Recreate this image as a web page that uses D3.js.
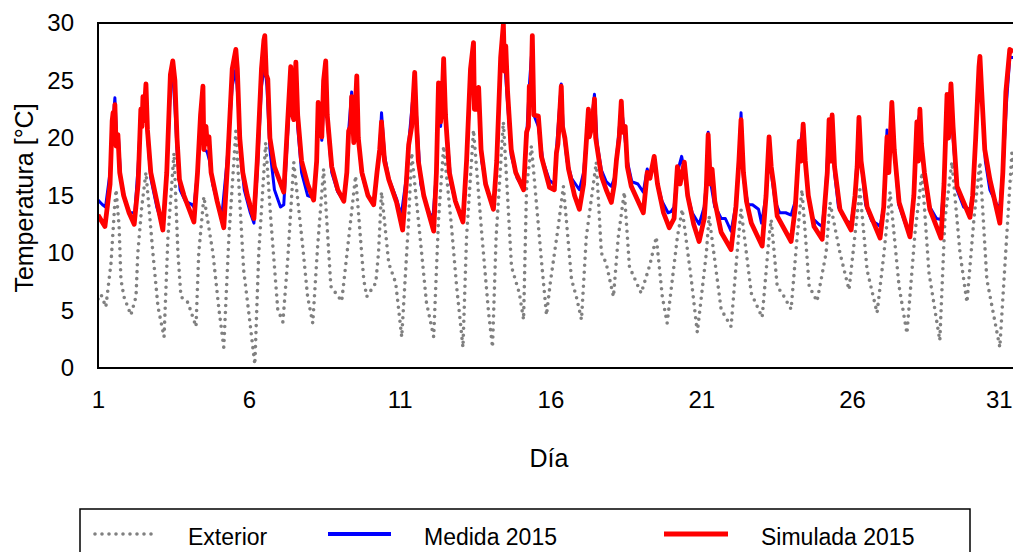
<!DOCTYPE html>
<html>
<head>
<meta charset="utf-8">
<script src="https://cdn.jsdelivr.net/npm/d3@7"></script>
<style>
  body { margin: 0; background: #fff; }
  svg { display: block; font-family: "Liberation Sans", Arial, sans-serif; }
  .tick text { font-size: 24px; fill: #000; }
  .label { font-size: 25px; fill: #000; }
  .legend text { font-size: 23px; fill: #000; }
</style>
</head>
<body>
<svg width="1013" height="552"></svg>
<script>
// [dia, temperatura]
const exterior = [
  [1.00,6.0],[1.10,6.4],[1.26,5.3],[1.43,9.1],[1.55,14],[1.60,15.5],[1.70,12.3],[1.76,7.7],[1.86,6.2],[2.09,4.6],
  [2.26,6.2],[2.32,10],[2.45,14],[2.59,17.0],[2.82,10.0],[2.99,5.3],[3.19,2.7],[3.32,11.4],[3.52,18.7],[3.65,10],
  [3.75,6.2],[3.98,5.7],[4.25,3.6],[4.34,10],[4.51,14.9],[4.81,10],[5.01,5.1],[5.17,1.8],[5.34,11.4],[5.57,20.6],
  [5.83,8.5],[6.00,4.8],[6.20,0.3],[6.33,10],[6.56,19.6],[6.73,12.9],[6.96,5.1],[7.13,4.0],[7.29,9.4],[7.49,17.9],
  [7.79,10.5],[7.95,6.2],[8.12,3.9],[8.28,10.5],[8.48,17.3],[8.72,7.1],[9.08,5.8],[9.38,12.9],[9.54,16.7],[9.81,7.7],
  [9.91,6.2],[10.21,7.4],[10.30,10],[10.40,15.3],[10.64,9.1],[10.87,7.4],[11.07,2.7],[11.30,12.9],[11.40,18.7],[11.73,10],
  [11.89,5.7],[12.13,2.7],[12.29,12.9],[12.46,19.3],[12.72,12.3],[12.89,7.1],[13.10,1.8],[13.22,11.4],[13.45,20.7],[13.72,11.8],
  [13.95,4.8],[14.08,1.8],[14.20,11.4],[14.44,21.4],[14.71,8.8],[14.97,6.5],[15.11,4.2],[15.21,15.8],[15.37,19.3],[15.70,9.4],
  [15.87,4.6],[16.00,7.5],[16.26,12.3],[16.43,15.8],[16.70,7.7],[16.86,6.2],[17.03,4.2],[17.19,11.4],[17.52,17.9],[17.69,10.0],
  [17.85,9.1],[18.09,6.2],[18.25,11.4],[18.45,15.3],[18.62,8.8],[19.01,6.5],[19.30,9],[19.51,11.4],[19.71,6.2],[19.87,3.9],
  [20.21,11.4],[20.37,13.8],[20.67,7.7],[20.87,3.1],[21.17,10.0],[21.26,13.2],[21.66,5.1],[21.99,3.6],[22.19,10],[22.32,13.8],
  [22.66,6.5],[23.02,4.4],[23.25,11.4],[23.32,12.9],[23.52,7.1],[23.75,6.2],[23.98,5.1],[24.18,11.4],[24.34,15.5],[24.58,7.1],
  [24.84,5.8],[25.14,10],[25.27,14.4],[25.60,10],[25.90,6.8],[26.26,15.5],[26.50,8.5],[26.83,4.8],[27.06,10],[27.26,15.3],
  [27.56,7.1],[27.82,3.0],[28.09,11.8],[28.32,17.0],[28.55,8.3],[28.91,2.4],[29.08,12.9],[29.31,17.9],[29.58,10],[29.81,5.7],
  [30.04,12.9],[30.24,17.9],[30.47,7.7],[30.90,1.8],[31.30,18.7],[31.40,16]
];

const medida = [
  [1.00,14.6],[1.15,14.2],[1.25,14.0],[1.40,17],[1.50,21.5],[1.56,23.5],[1.62,20],[1.68,20],[1.75,16.5],[1.90,14.5],[2.05,13.5],[2.22,13.5],
  [2.33,17.5],[2.42,22],[2.49,23],[2.59,24.2],[2.64,20.3],[2.75,16.5],[2.95,14.0],[3.15,12.3],
  [3.28,17],[3.40,24.5],[3.48,25.5],[3.55,22.7],[3.62,19],[3.72,15.5],[3.90,14.5],[4.12,14.2],[4.18,14.0],
  [4.30,17],[4.40,21.5],[4.48,23.5],[4.51,19],[4.62,18.8],[4.70,18],[4.80,16],[5.00,14.0],[5.12,13.6],
  [5.28,18],[5.45,24.5],[5.57,26.0],[5.65,23],[5.75,18],[5.85,15.5],[6.05,13.5],[6.17,12.6],
  [6.28,17],[6.42,24.5],[6.53,26.5],[6.60,24.5],[6.70,19],[6.85,15.5],[7.05,14],[7.16,14.2],
  [7.28,20],[7.39,24.5],[7.45,22],[7.56,25.8],[7.62,21],[7.75,17],[7.95,15],[8.15,14.8],
  [8.25,18],[8.30,22.5],[8.42,19.8],[8.55,26.2],[8.62,21],[8.75,17],[8.95,15.3],[9.15,14.5],
  [9.25,17],[9.31,20.6],[9.41,24],[9.48,22],[9.58,25],[9.63,20],[9.75,16.8],[9.95,15],[10.14,14.2],
  [10.25,17],[10.34,19],[10.40,22.2],[10.50,18.5],[10.64,16.5],[10.90,14.7],[11.05,13.2],
  [11.22,16.5],[11.30,19.5],[11.42,23],[11.50,25.0],[11.58,21],[11.70,16],[11.90,14],[12.10,12.9],
  [12.22,17],[12.29,24],[12.36,21],[12.46,26.2],[12.55,21],[12.70,16],[12.90,14],[13.10,13.2],
  [13.22,18],[13.35,25],[13.45,27.8],[13.50,23],[13.62,23.5],[13.72,18],[13.90,15.5],[14.11,14.0],
  [14.22,18],[14.35,26.5],[14.44,29.2],[14.50,26],[14.58,23],[14.70,18.5],[14.90,16.5],[15.11,15.6],
  [15.21,20],[15.30,24.5],[15.40,28.2],[15.45,22],[15.60,21],[15.75,18],[15.97,16.3],[16.13,16.0],
  [16.20,19],[16.36,24.7],[16.42,21],[16.55,18],[16.70,16.5],[16.96,15.5],
  [17.10,17],[17.26,22],[17.35,21],[17.46,23.8],[17.55,19.5],[17.69,17.2],[17.85,16.2],[18.02,15.8],
  [18.12,16.5],[18.20,18.5],[18.35,22.8],[18.45,20.5],[18.55,18],[18.70,16.2],[18.90,16],[19.08,15.3],
  [19.21,17.3],[19.30,16.5],[19.44,18],[19.55,16],[19.70,14.5],[19.90,13.5],[20.00,13.6],
  [20.10,14],[20.21,17],[20.35,18.4],[20.45,17],[20.55,15],[20.70,13.5],[20.93,12.5],
  [21.10,14],[21.20,17],[21.23,20.5],[21.32,16],[21.45,14],[21.55,13.6],[21.66,13],[21.80,13],[21.99,11.9],
  [22.15,14.2],[22.25,18],[22.32,22.2],[22.40,16.5],[22.55,14.2],[22.70,14.2],[22.90,13.8],[23.00,12.6],
  [23.15,15],[23.25,20],[23.32,17],[23.45,14.5],[23.60,13.5],[23.80,13.5],[23.98,13.3],
  [24.12,14.5],[24.25,19],[24.35,20.5],[24.45,18],[24.55,15],[24.70,13],[24.90,12.5],[25.01,12.3],
  [25.12,15],[25.24,21.2],[25.34,21.5],[25.42,17],[25.55,14],[25.80,12.8],[25.97,12.6],
  [26.10,15],[26.23,21.5],[26.30,18],[26.45,14.2],[26.65,12.8],[26.85,12.5],[26.93,12.3],
  [27.05,14],[27.16,20.7],[27.22,17],[27.32,22.8],[27.40,19],[27.55,14.2],[27.80,12.3],[27.92,11.8],
  [28.05,15],[28.15,21],[28.25,22.2],[28.32,19],[28.42,16.5],[28.58,14],[28.80,13],[28.95,12.9],
  [29.05,16],[29.15,23],[29.28,24.2],[29.35,20],[29.48,15.5],[29.70,14],[29.91,13.8],
  [30.00,15],[30.12,21],[30.24,26.5],[30.32,23],[30.42,18],[30.57,15.5],[30.80,14.2],[30.90,14.0],
  [31.00,17],[31.12,23],[31.23,27.0],[31.35,27]
];

const simulada = [
  [1.00,13.3],[1.23,12.3],[1.40,16],[1.47,21.5],[1.50,22.2],[1.53,20],[1.56,22.9],[1.60,19.3],[1.66,20.3],[1.72,17],[1.85,15],[2.03,13.5],[2.20,12.5],
  [2.33,16],[2.42,22.5],[2.46,21],[2.49,23.6],[2.52,21.5],[2.59,24.7],[2.64,20.7],[2.75,17],[2.95,14.5],[3.15,12.0],
  [3.28,17],[3.40,25.5],[3.48,26.7],[3.55,25],[3.62,20],[3.70,16.4],[3.85,15],[4.18,12.7],
  [4.30,17],[4.40,22],[4.48,24.5],[4.51,19.0],[4.58,21],[4.62,19.5],[4.68,20.1],[4.75,17],[4.95,14.5],[5.17,12.2],
  [5.30,18],[5.45,26],[5.57,27.7],[5.62,26],[5.70,20],[5.80,17],[5.95,15],[6.17,13.0],
  [6.28,18],[6.42,26],[6.50,28.5],[6.53,28.9],[6.58,25.5],[6.63,25.1],[6.70,20],[6.85,17.5],[7.16,15.3],
  [7.28,21],[7.39,26.2],[7.45,22],[7.49,21.6],[7.56,26.6],[7.62,22],[7.75,18],[7.95,16],[8.15,14.6],
  [8.25,18],[8.30,23.1],[8.35,21],[8.42,20.1],[8.48,25],[8.55,26.7],[8.60,22],[8.75,17.5],[8.95,15.5],[9.15,14.5],
  [9.25,17],[9.31,20.6],[9.38,21],[9.41,23.6],[9.48,19.6],[9.54,23],[9.58,25.4],[9.63,20],[9.75,17],[9.95,15],[10.14,14.2],
  [10.25,17],[10.34,19],[10.40,21.4],[10.50,18],[10.64,16.4],[10.90,14.4],[11.10,12.0],
  [11.22,16],[11.30,19.4],[11.40,21],[11.50,25.7],[11.55,22],[11.62,18],[11.80,15],[12.13,11.9],
  [12.22,17],[12.29,24.8],[12.36,21.4],[12.42,24],[12.46,26.9],[12.52,22],[12.65,17],[12.85,14.5],[13.10,12.7],
  [13.22,18],[13.35,26],[13.45,28.3],[13.48,22.5],[13.55,22.5],[13.62,24.4],[13.70,19],[13.85,16],[14.11,13.8],
  [14.22,18],[14.35,27],[14.44,29.9],[14.48,25.8],[14.52,28],[14.58,24],[14.70,19],[14.85,17],[15.11,15.5],
  [15.21,20.5],[15.27,21],[15.30,24.5],[15.35,23],[15.40,28.9],[15.45,22],[15.60,21.9],[15.70,18.4],[15.97,15.7],[16.13,15.5],
  [16.20,18.7],[16.25,19.5],[16.36,24.5],[16.40,21],[16.48,20],[16.60,17.3],[16.80,15],[16.96,13.8],
  [17.10,16],[17.26,22.5],[17.29,20.1],[17.38,21],[17.46,23.4],[17.50,20],[17.69,16.7],[17.85,15.5],[18.02,14.4],
  [18.12,16],[18.19,18.1],[18.28,20],[18.35,23.2],[18.40,20.5],[18.48,21.0],[18.55,17.5],[18.68,15.8],[19.08,13.5],
  [19.21,17.0],[19.30,16.5],[19.44,18.4],[19.55,16],[19.75,13.5],[19.94,12.2],
  [20.10,13],[20.21,17.5],[20.30,16],[20.44,17.9],[20.55,15],[20.75,12.5],[20.93,11.0],
  [21.10,13],[21.17,15.8],[21.23,20.3],[21.30,16],[21.36,17.3],[21.45,14.5],[21.66,11.8],[21.99,10.3],
  [22.15,14],[22.25,18],[22.32,21.6],[22.40,17],[22.50,14.5],[22.66,12.6],[23.02,10.6],
  [23.15,15],[23.25,20.1],[23.32,17.5],[23.40,16],[23.52,13.2],[23.98,11.0],
  [24.12,14],[24.25,19.7],[24.32,18],[24.38,21.2],[24.45,18],[24.55,15],[24.74,12.3],[25.01,11.2],
  [25.12,15],[25.18,17],[25.24,21.6],[25.30,18],[25.34,22.0],[25.42,17.5],[25.60,13.8],[25.97,12.0],
  [26.10,15],[26.17,17.5],[26.23,21.8],[26.30,18],[26.50,14.0],[26.93,11.3],
  [27.05,14],[27.16,20.1],[27.22,17],[27.32,23.1],[27.40,19],[27.56,14.4],[27.92,11.4],
  [28.05,15],[28.15,21.4],[28.20,18],[28.25,22.5],[28.30,19.5],[28.40,17],[28.58,13.8],[28.95,11.3],
  [29.05,16],[29.15,23.8],[29.20,20],[29.28,24.7],[29.35,21],[29.48,15.8],[29.91,13.1],
  [30.00,15],[30.10,20],[30.21,26.2],[30.24,27.1],[30.30,24],[30.40,19],[30.57,16.4],[30.90,12.6],
  [31.00,17],[31.10,24],[31.23,27.7],[31.35,27.5]
];

const xTicks = [1, 6, 11, 16, 21, 26, 31];
const yTicks = [0, 5, 10, 15, 20, 25, 30];
const legendNames = ["Exterior", "Medida 2015", "Simulada 2015"];

const svg = d3.select("svg");

const plotLeft = 98, plotTop = 23, plotBottom = 368, plotRight = 1033;

const x = d3.scaleLinear().domain([1, 32]).range([plotLeft, plotRight]);
const y = d3.scaleLinear().domain([0, 30]).range([plotBottom, plotTop]);

svg.append("clipPath").attr("id", "plotclip")
  .append("rect")
  .attr("x", plotLeft).attr("y", plotTop)
  .attr("width", plotRight - plotLeft).attr("height", plotBottom - plotTop);

// axes (labels only, border drawn below)
svg.append("g")
  .attr("transform", `translate(${plotLeft},0)`)
  .call(d3.axisLeft(y).tickValues(yTicks).tickSize(0).tickPadding(24))
  .call(g => g.select(".domain").remove())
  .attr("font-family", null);

svg.append("g")
  .attr("transform", `translate(0,${plotBottom})`)
  .call(d3.axisBottom(x).tickValues(xTicks).tickSize(0).tickPadding(23))
  .call(g => g.select(".domain").remove())
  .attr("font-family", null)
  .selectAll(".tick text")
  .filter(d => d === xTicks[xTicks.length - 1])
  .attr("dx", -4);   // keep the last label inside the window

const line = d3.line()
  .x(d => x(d[0]))
  .y(d => y(d[1]));

const plot = svg.append("g").attr("clip-path", "url(#plotclip)");

plot.append("path")
  .datum(exterior)
  .attr("d", line)
  .attr("fill", "none")
  .attr("stroke", "#808080")
  .attr("stroke-width", 3.6)
  .attr("stroke-linecap", "round")
  .attr("stroke-dasharray", "0 7");

plot.append("path")
  .datum(medida)
  .attr("d", line)
  .attr("fill", "none")
  .attr("stroke", "#0000ff")
  .attr("stroke-width", 3)
  .attr("stroke-linejoin", "round");

plot.append("path")
  .datum(simulada)
  .attr("d", line)
  .attr("fill", "none")
  .attr("stroke", "#ff0000")
  .attr("stroke-width", 4.8)
  .attr("stroke-linejoin", "round");

// plot border
svg.append("rect")
  .attr("x", plotLeft).attr("y", plotTop)
  .attr("width", plotRight - plotLeft).attr("height", plotBottom - plotTop)
  .attr("fill", "none")
  .attr("stroke", "#000")
  .attr("stroke-width", 2);

// axis titles
svg.append("text")
  .attr("class", "label")
  .attr("transform", "translate(33,198) rotate(-90)")
  .attr("text-anchor", "middle")
  .text("Temperatura [°C]");

svg.append("text")
  .attr("class", "label")
  .attr("x", 549)
  .attr("y", 467)
  .attr("text-anchor", "middle")
  .text("Día");

// legend
const legend = svg.append("g").attr("class", "legend");
legend.append("rect")
  .attr("x", 80).attr("y", 509)
  .attr("width", 890).attr("height", 70)
  .attr("fill", "none")
  .attr("stroke", "#000")
  .attr("stroke-width", 1.5);

const legendItems = [
  { name: legendNames[0], x1: 95, x2: 152, tx: 188, color: "#808080", w: 3.6, dash: "0 7" },
  { name: legendNames[1], x1: 328, x2: 391, tx: 424, color: "#0000ff", w: 4, dash: null },
  { name: legendNames[2], x1: 664, x2: 728, tx: 761, color: "#ff0000", w: 4.8, dash: null }
];

legendItems.forEach(it => {
  legend.append("line")
    .attr("x1", it.x1).attr("x2", it.x2)
    .attr("y1", 534).attr("y2", 534)
    .attr("stroke", it.color)
    .attr("stroke-width", it.w)
    .attr("stroke-linecap", it.dash ? "round" : "butt")
    .attr("stroke-dasharray", it.dash);
  legend.append("text")
    .attr("x", it.tx)
    .attr("y", 545)
    .text(it.name);
});
</script>
</body>
</html>
